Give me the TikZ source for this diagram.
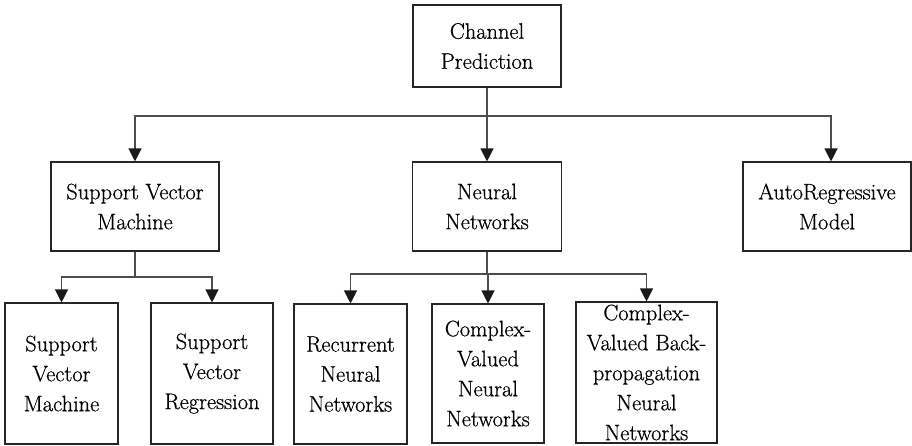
\documentclass[tikz,border=0pt]{standalone}
\usepackage{fontspec}
\setmainfont{Latin Modern Roman}[FakeBold=0.6]
\usetikzlibrary{arrows.meta,calc}
\begin{document}
\begin{tikzpicture}[x=1pt,y=-1pt,
  box/.style={draw=black!85,line width=1.1pt,text=black,inner sep=0pt,
    font=\rmfamily\fontsize{22.4}{30}\selectfont,align=center},
  conn/.style={draw=black!70,line width=1.2pt},
  arr/.style={conn,-{Triangle[length=13pt,width=13pt,black!90]}}]
\useasboundingbox (0,0) rectangle (912,445);
\node[box,minimum width=148pt,minimum height=82pt] (top) at (487,46) {Channel\\Prediction};
\node[box,minimum width=168pt,minimum height=89pt] (svm) at (135,206.5) {Support Vector\\Machine};
\node[box,minimum width=149pt,minimum height=89pt] (nn) at (487,206.5) {Neural\\Networks};
\node[box,minimum width=168pt,minimum height=89pt] (ar) at (827,206.5) {AutoRegressive\\Model};
\node[box,minimum width=113pt,minimum height=141pt] (svm1) at (61.5,373.5) {Support\\Vector\\Machine};
\node[box,minimum width=122pt,minimum height=141pt] (svr) at (212,373.5) {Support\\Vector\\Regression};
\node[box,minimum width=113pt,minimum height=140pt] (rnn) at (350.5,374) {Recurrent\\Neural\\Networks};
\node[box,minimum width=112pt,minimum height=139pt] (cvnn) at (488,373.5) {Complex-\\Valued\\Neural\\Networks};
\node[box,minimum width=141pt,minimum height=141pt] (cvbp) at (646.5,372.5) {Complex-\\Valued Back-\\propagation\\Neural\\Networks};
\coordinate (bus) at (487,116);
\coordinate (arin) at ($(ar.north)+(4,0)$);
\draw[conn] (top.south) -- (bus);
\draw[arr] (bus) -| (svm.north);
\draw[arr] (bus) -- (nn.north);
\draw[arr] (bus) -| (arin);
\coordinate (sbus) at (135,277);
\draw[conn] (svm.south) -- (sbus);
\draw[arr] (sbus) -| (svm1.north);
\draw[arr] (sbus) -| (svr.north);
\coordinate (nbus) at (487,274);
\draw[conn] (nn.south) -- (nbus);
\draw[arr] (nbus) -| (rnn.north);
\draw[arr] (nbus) -| (cvnn.north);
\draw[arr] (nbus) -| (cvbp.north);
\end{tikzpicture}
\end{document}
